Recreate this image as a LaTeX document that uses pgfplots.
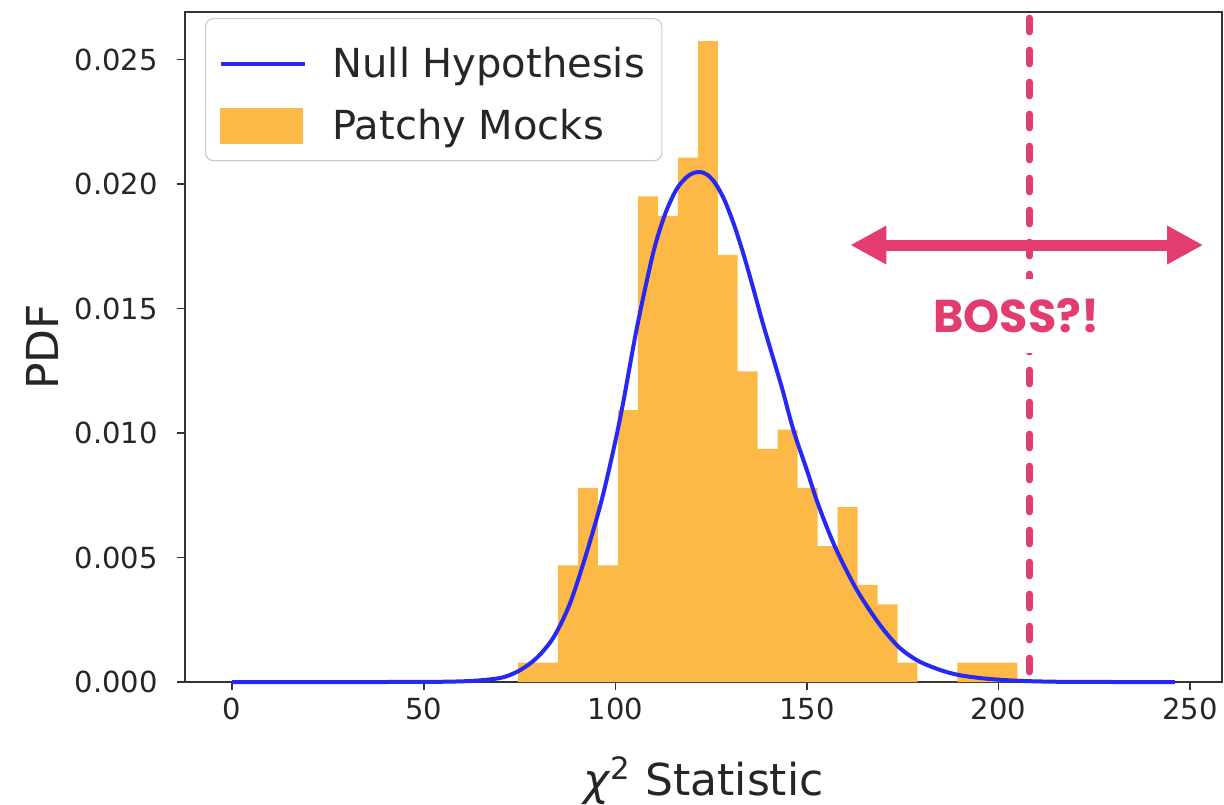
\documentclass[border=0pt]{standalone}
\usepackage{pgfplots}
\pgfplotsset{compat=1.18}
\usepackage{fontspec}
\setmainfont{DejaVu Sans}
\newfontfamily\bossfont{Poppins}
\usetikzlibrary{arrows.meta}
\definecolor{histC}{RGB}{252,185,72}
\definecolor{curveC}{RGB}{40,40,245}
\definecolor{pinkC}{RGB}{226,61,110}
\definecolor{txtC}{RGB}{38,38,38}
\begin{document}
\begin{tikzpicture}
\begin{axis}[
  name=ax,
  scale only axis, width=518.5pt, height=335pt,
  xmin=-12.3, xmax=258.3, ymin=0, ymax=0.02691,
  clip=false,
  axis line style={line width=0.8pt, black!80},
  xtick={0,50,100,150,200,250},
  ytick={0,0.005,0.01,0.015,0.02,0.025},
  tick align=outside, major tick length=4pt,
  tick style={line width=0.8pt, black!80},
  xtick pos=bottom, ytick pos=left,
  scaled y ticks=false,
  /pgf/number format/assume math mode=true,
  yticklabel style={/pgf/number format/.cd, fixed, fixed zerofill, precision=3, /tikz/.cd},
  ticklabel style={font=\fontsize{14.5}{16}\selectfont, text=txtC},
  xticklabel style={anchor=base, inner sep=0pt, yshift=-14.5pt},
  yticklabel style={anchor=east, inner sep=0pt, xshift=-9.5pt},
  every axis x label/.style={at={(axis description cs:0.5,-0.1687)}, anchor=base, font=\fontsize{22}{26}\selectfont, text=txtC},
  every axis y label/.style={at={(axis description cs:-0.1379,0.5)}, anchor=center, rotate=90, font=\fontsize{22}{26}\selectfont, text=txtC},
  xlabel={\textit{χ}\textsuperscript{2} Statistic},
  ylabel={PDF},
  legend style={at={(0.0193,0.991)}, anchor=north west, draw=black!20, line width=0.6pt,
    rounded corners=4pt, fill=white, fill opacity=0.8, text opacity=1,
    font=\fontsize{20}{23}\selectfont, text=txtC, inner xsep=6.5pt, inner ysep=7pt, row sep=10.5pt,
    /tikz/every odd column/.append style={column sep=11pt}},
  legend cell align=left,
]
\addplot[ybar interval, fill=histC, draw=none, forget plot] coordinates {
(74.60,0.00078) (79.81,0.00078) (85.02,0.00468) (90.24,0.00780) (95.45,0.00468)
(100.66,0.01092) (105.87,0.01950) (111.08,0.01872) (116.30,0.02106) (121.51,0.02574)
(126.72,0.01716) (131.93,0.01248) (137.14,0.00936) (142.36,0.01014) (147.57,0.00780)
(152.78,0.00546) (157.99,0.00702) (163.20,0.00390) (168.42,0.00312) (173.63,0.00078)
(178.84,0) (184.05,0) (189.26,0.00078) (194.48,0.00078) (199.69,0.00078) (204.90,0.00078)
};
\addplot[curveC, line width=2pt, smooth, tension=0.5,
  legend image code/.code={\path (0pt,14.5pt); \draw[curveC, line width=2pt, sharp corners, draw opacity=1] (0pt,0pt) -- (42pt,0pt);}] coordinates {
(0,0) (20,0) (40,0) (55,0.00001) (62,0.00004) (67,0.0001) (71,0.0002)
(75.2,0.00048) (79.5,0.00097) (83.9,0.0018) (88.2,0.00317) (92.6,0.00524)
(96.9,0.00759) (101.3,0.01063) (105.6,0.01421) (109.9,0.01725) (113,0.01880)
(116,0.01980) (118.7,0.02029) (120.5,0.02045) (122.3,0.02048) (124.2,0.02035)
(126.2,0.02000) (128.5,0.01935) (131,0.01835) (133.5,0.01715)
(136,0.01580) (138.5,0.0144) (141,0.0131) (143.5,0.0118) (146.5,0.0101)
(150,0.0085) (153,0.0071) (157.4,0.0054) (163,0.0037) (169,0.0023)
(174,0.0014) (179,0.00085) (185,0.00047) (190,0.00027) (197,0.00013)
(205,0.00005) (215,0.00001) (230,0) (246,0)
};
\addlegendentry{Null Hypothesis}
\addlegendimage{legend image code/.code={\fill[histC, sharp corners, fill opacity=1] (0pt,-8.5pt) rectangle (41pt,8.5pt);}}
\addlegendentry{Patchy Mocks}
\draw[pinkC, line width=3.4pt, line cap=round, dash pattern=on 7pt off 9pt]
  (axis cs:208,0.0004) -- (axis cs:208,0.02691);
\draw[pinkC, line width=5.5pt, {Triangle[length=18pt,width=18pt]}-{Triangle[length=18pt,width=18pt]}]
  (axis cs:161.3,0.01755) -- (axis cs:253.4,0.01755);
\node[fill=white, inner xsep=2pt, inner ysep=10pt, text=pinkC,
  font=\bossfont\bfseries\fontsize{23}{27}\selectfont] at (axis cs:204.6,0.01471) {BOSS?!};
\end{axis}
\pgfresetboundingbox
\path[use as bounding box] ([xshift=-92.5pt,yshift=-61.5pt]ax.south west) rectangle ([xshift=1pt,yshift=6pt]ax.north east);
\end{tikzpicture}
\end{document}
